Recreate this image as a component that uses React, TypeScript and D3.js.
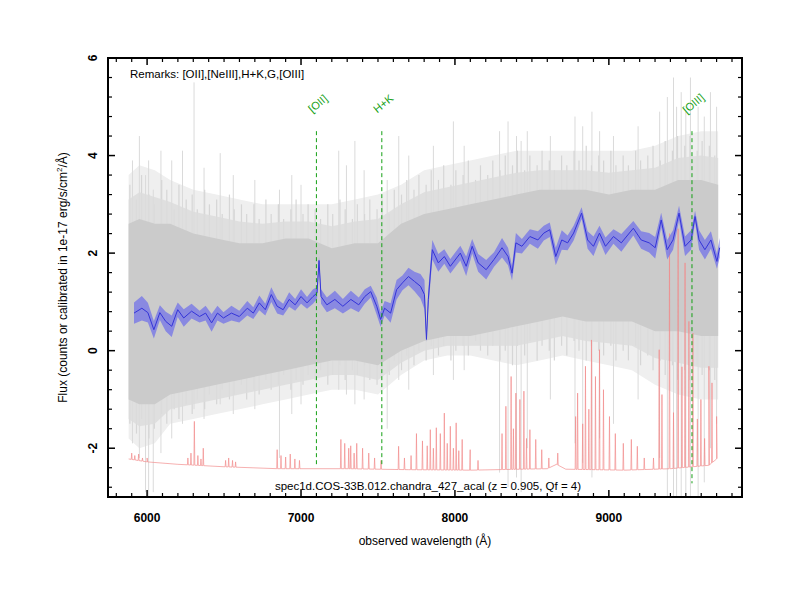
import React from 'react';
import * as d3 from 'd3';

// smoothed spectrum (blue)
const blueWl = [5915,5966,6005,6044,6083,6121,6160,6199,6238,6289,6341,6380,6419,6457,6496,6548,6599,6651,6690,6729,6768,6807,6845,6884,6923,6962,7000,7039,7078,7104,7117,7130,7168,7220,7272,7324,7375,7414,7453,7492,7517,7543,7582,7621,7659,7698,7737,7776,7802,7815,7827,7853,7892,7931,7970,8035,8073,8112,8151,8203,8254,8306,8345,8371,8396,8435,8487,8539,8577,8616,8655,8694,8732,8771,8823,8862,8900,8939,8978,9030,9081,9159,9210,9262,9301,9340,9379,9417,9456,9495,9534,9560,9586,9624,9663,9702,9720];
const blueFlux = [0.77,0.87,0.78,0.43,0.78,0.60,0.50,0.84,0.67,0.81,0.70,0.77,0.57,0.77,0.67,0.77,0.70,0.87,0.77,0.98,0.84,1.15,0.91,0.84,1.05,0.94,1.11,0.98,1.11,1.18,1.85,1.11,0.94,1.05,0.91,1.05,0.94,1.11,1.21,0.91,0.64,0.87,0.77,1.25,1.39,1.52,1.42,1.32,1.15,0.23,1.05,2.07,1.80,1.93,1.73,2.00,1.73,2.14,1.80,1.66,1.87,2.11,1.93,1.59,2.21,2.14,2.34,2.27,2.41,2.48,1.93,2.27,2.21,2.41,2.82,2.27,2.14,2.41,2.14,2.34,2.21,2.51,2.27,2.21,2.11,2.68,2.07,2.27,2.82,2.14,2.27,2.75,2.27,2.07,2.27,1.83,2.11];
const blueErr = [0.22,0.25,0.2,0.18,0.15,0.2,0.22,0.15,0.18,0.15,0.12,0.15,0.18,0.15,0.12,0.15,0.12,0.15,0.12,0.15,0.12,0.15,0.15,0.12,0.15,0.12,0.15,0.12,0.15,0.12,0.08,0.15,0.15,0.18,0.15,0.18,0.15,0.15,0.12,0.18,0.15,0.15,0.2,0.2,0.15,0.18,0.2,0.25,0.3,0.05,0.2,0.2,0.18,0.15,0.15,0.15,0.2,0.15,0.18,0.2,0.15,0.2,0.18,0.15,0.2,0.15,0.15,0.18,0.15,0.15,0.18,0.2,0.15,0.15,0.12,0.18,0.2,0.15,0.18,0.15,0.18,0.15,0.18,0.2,0.22,0.15,0.2,0.2,0.15,0.2,0.2,0.12,0.2,0.2,0.18,0.15,0.2];

// raw spectrum (grey) envelope
const grayWl = [5880,5950,6050,6150,6300,6450,6600,6750,6900,7050,7200,7350,7500,7650,7800,7950,8100,8250,8400,8550,8700,8850,9000,9150,9300,9450,9600,9710];
const grayDenseHi = [2.6,2.7,2.6,2.6,2.4,2.3,2.2,2.2,2.3,2.3,2.1,2.2,2.2,2.6,2.8,2.9,3.0,3.1,3.2,3.3,3.3,3.3,3.2,3.3,3.3,3.5,3.5,3.4];
const grayDenseLo = [-1.0,-1.1,-1.1,-0.9,-0.8,-0.7,-0.6,-0.5,-0.4,-0.3,-0.2,-0.2,-0.3,0.0,0.2,0.3,0.3,0.4,0.5,0.6,0.7,0.6,0.6,0.6,0.4,0.4,0.3,0.3];
const grayMidHi = [3.1,3.25,3.15,3.05,2.85,2.75,2.65,2.6,2.65,2.65,2.55,2.65,2.7,3.0,3.25,3.35,3.45,3.55,3.65,3.7,3.7,3.7,3.65,3.7,3.75,3.95,4.0,3.95];
const grayMidLo = [-1.4,-1.55,-1.5,-1.2,-1.1,-1.0,-0.9,-0.8,-0.7,-0.6,-0.5,-0.5,-0.6,-0.25,0.0,0.1,0.1,0.1,0.1,0.2,0.3,0.2,0.15,0.1,-0.15,-0.25,-0.35,-0.35];
const grayLightHi = [3.6,3.8,3.7,3.5,3.3,3.2,3.1,3.0,3.0,3.0,3.0,3.1,3.2,3.4,3.7,3.8,3.9,4.0,4.1,4.1,4.1,4.1,4.1,4.1,4.2,4.4,4.5,4.5];
const grayLightLo = [-1.8,-2.0,-1.9,-1.5,-1.4,-1.3,-1.2,-1.1,-1.0,-0.9,-0.8,-0.8,-0.9,-0.5,-0.2,-0.1,-0.1,-0.2,-0.3,-0.2,-0.1,-0.2,-0.3,-0.4,-0.7,-0.9,-1.0,-1.0];

// individual pixel columns of the raw spectrum
const strokeWl = [5888,5931,5964,6012,6047,6095,6128,6176,6207,6254,6293,6326,6374,6405,6452,6488,6535,6566,6613,6647,6694,6728,6772,6806,6853,6887,6934,6968,7013,7046,7092,7127,7174,7206,7253,7287,7334,7366,7413,7447,7494,7527,7573,7606,7653,7687,7734,7766,7813,7846,7893,7927,7974,8006,8053,8087,8134,8166,8213,8246,8293,8327,8374,8406,8453,8487,8534,8566,8613,8646,8693,8727,8774,8806,8853,8887,8934,8966,9013,9046,9093,9127,9174,9206,9253,9287,9334,9366,9413,9446,9493,9527,9574,9606,9653,9688];
const strokeHi = [3.4,3.1,3.6,3.2,3.0,3.5,3.3,2.9,3.4,3.1, 3.2,2.9,3.3,3.0,3.1,2.8,3.2,2.9,3.0,2.8, 3.0,2.7,3.1,2.8,3.0,2.7,2.9,3.1,2.8,3.0, 2.9,2.7,3.0,2.8,3.1,2.9,2.7,3.0,2.8,3.1, 2.9,3.1,2.8,3.3,3.2,3.5,3.3,3.6,3.4,3.7, 3.5,3.8,3.4,3.7,3.6,3.9,3.5,3.8,3.6,3.9, 3.7,4.0,3.8,4.1,3.7,4.0,3.8,4.1,3.9,3.7, 4.0,3.8,4.1,3.9,4.2,3.8,4.0,3.9,4.1,3.8, 4.0,3.8,4.1,3.9,4.0,4.2,3.9,4.3,4.1,4.4, 4.2,4.4,4.1,4.3,4.2,4.0];
const strokeLo = [-1.5,-1.7,-1.4,-1.8,-1.6,-1.3,-1.5,-1.2,-1.4,-1.1, -1.3,-1.0,-1.2,-0.9,-1.1,-0.8,-1.0,-0.9,-0.7,-1.0, -0.8,-0.9,-0.6,-0.8,-0.7,-0.5,-0.8,-0.6,-0.7,-0.5, -0.6,-0.4,-0.7,-0.5,-0.3,-0.6,-0.4,-0.5,-0.3,-0.6, -0.7,-0.4,-0.5,-0.2,-0.4,-0.1,-0.3,0.0,-0.2,0.1, -0.1,0.1,-0.2,0.0,0.1,-0.1,0.2,0.0,-0.1,0.1, -0.2,0.0,-0.3,0.1,-0.1,0.2,-0.2,0.1,0.0,-0.2, 0.1,-0.1,0.2,0.0,-0.2,0.1,0.0,-0.1,0.1,-0.2, 0.0,-0.2,0.1,-0.3,-0.1,-0.4,-0.2,-0.5,-0.3,-0.6, -0.4,-0.6,-0.3,-0.5,-0.4,-0.6];

// single outlying pixels of the raw spectrum
const spikeWl = [5905,5950,5990,6010,6040,6090,6160,6230,6305,6370,6475,6560,6700,6860,6940,7000,7245,7295,7350,7410,7560,7635,7700,7860,7990,8060,8290,8345,8400,8430,8470,8620,8780,8830,8890,8940,9030,9190,9330,9380,9420,9440,9470,9500,9530,9580,9620,9660,9700];
const spikeLo = [-1.9,-2.2,-2.9,-3.0,-2.9,-2.1,-1.8,-1.5,-1.2,-1.4,-1.1,-1.3,-1.2,-2.2,-1.3,-1.1,-0.8,-0.9,-1.1,-1.0,-1.6,-0.6,-0.8,-0.5,-0.6,-0.4,-2.5,-2.8,-2.6,-2.9,-2.0,-1.0,-1.9,-2.3,-2.6,-1.8,-1.5,-1.0,-2.2,-3.0,-3.0,-3.0,-3.0,-3.0,-3.0,-3.0,-2.7,-2.0,-1.5];
const spikeHi = [3.9,4.4,3.6,3.9,3.3,4.1,3.9,4.1,5.5,3.75,4.05,3.6,3.5,3.3,3.6,3.4,4.1,3.8,4.3,3.7,3.5,4.4,4.0,4.2,4.7,4.2,4.5,4.7,4.4,4.3,4.5,4.4,4.8,4.6,4.9,4.5,4.4,4.6,4.9,5.2,5.6,5.0,5.3,4.9,5.6,5.0,4.8,5.3,5.0];

// sky spectrum (red)
const skyBaseWl = [5880,6000,6200,6500,6850,7300,7700,8100,8600,8660,8720,9100,9400,9650,9700];
const skyBaseFlux = [-2.22,-2.28,-2.33,-2.38,-2.42,-2.42,-2.44,-2.45,-2.42,-2.33,-2.43,-2.45,-2.42,-2.35,-2.22];
const skyLineWl = [5900,5920,5945,5970,6000,6265,6285,6307,6330,6350,6365,6510,6530,6555,6575,6845,6870,6900,6930,6960,6990,7259,7284,7310,7323,7345,7362,7400,7440,7478,7520,7634,7672,7715,7750,7789,7820,7840,7860,7879,7905,7931,7950,7970,7990,8008,8025,8047,8099,8150,8306,8331,8365,8380,8396,8422,8448,8465,8487,8525,8564,8610,8668,8784,8797,8830,8848,8870,8887,8913,8939,8965,9004,9042,9094,9146,9185,9230,9290,9327,9345,9394,9420,9450,9475,9495,9520,9546,9575,9598,9622,9650,9670,9700];
const skyLinePeak = [-2.1,-2.15,-2.12,-2.2,-2.2,-2.2,-2.1,-1.45,-2.15,-2.22,-2.0,-2.25,-2.2,-2.25,-2.28,-2.03,-2.15,-2.18,-2.12,-2.22,-2.25,-1.82,-1.9,-2.0,-1.95,-2.1,-1.9,-2.0,-2.1,-2.2,-2.25,-1.96,-2.2,-2.15,-1.7,-1.85,-1.95,-1.62,-2.0,-1.58,-1.7,-1.28,-1.9,-1.55,-2.0,-1.48,-2.05,-1.82,-2.03,-2.25,-1.7,-1.14,-0.53,-1.6,-0.87,-1.0,-0.83,-1.8,-1.62,-1.82,-2.03,-2.2,-2.1,-1.35,-0.87,-1.5,-0.32,-1.2,0.22,-0.53,0.02,-0.8,-1.35,-1.7,-1.9,-1.82,-1.96,-2.2,-2.2,0.02,-0.9,2.4,-1.27,2.5,-0.33,1.8,0.6,0.36,-1.4,-1.0,-1.8,-0.32,-0.66,-1.35];

// identified features
const lineNames = ['[OII]', 'H+K', '[OIII]'];
const lineWl = [7100, 7525, 9540];
const lineBottom = [-2.38, -2.38, -2.72];

const xTicks = [6000, 7000, 8000, 9000];
const yTicks = [-2, 0, 2, 4, 6];

const remarks = 'Remarks: [OII],[NeIII],H+K,G,[OIII]';
const caption = 'spec1d.COS-33B.012.chandra_427_acal (z = 0.905, Qf = 4)';

export default function App() {
  const W = 800, H = 600;
  const m = { left: 108, right: 742, top: 58, bottom: 497 };
  const font = '"Liberation Sans", Arial, Helvetica, sans-serif';

  const x = d3.scaleLinear().domain([5746, 9865]).range([m.left, m.right]);
  const y = d3.scaleLinear().domain([-3, 6]).range([m.bottom, m.top]);

  const band = (lo: number[], hi: number[]) =>
    d3.area<number>().x((_, i) => x(grayWl[i])).y0((_, i) => y(lo[i])).y1((_, i) => y(hi[i]))(grayWl) || '';

  const blueIdx = d3.range(Math.min(blueWl.length, blueFlux.length));
  const blueArea = d3.area<number>()
    .x(i => x(blueWl[i]))
    .y0(i => y(blueFlux[i] - (blueErr[i] ?? 0.15)))
    .y1(i => y(blueFlux[i] + (blueErr[i] ?? 0.15)))(blueIdx) || '';
  const blueLine = d3.line<number>().x(i => x(blueWl[i])).y(i => y(blueFlux[i]))(blueIdx) || '';

  // sky: baseline plus narrow emission lines
  const base = d3.scaleLinear().domain(skyBaseWl).range(skyBaseFlux);
  const skyPts: [number, number][] = skyBaseWl.map((w, i) => [w, skyBaseFlux[i]]);
  skyLineWl.forEach((w, i) => {
    skyPts.push([w - 3, base(w - 3)], [w, skyLinePeak[i]], [w + 3, base(w + 3)]);
  });
  skyPts.sort((a, b) => a[0] - b[0]);
  const skyPath = d3.line<[number, number]>().x(d => x(d[0])).y(d => y(d[1]))(skyPts) || '';

  const xMinor = d3.range(5800, 9900, 100).filter(v => v % 1000 !== 0);
  const yMinor = d3.range(-2.8, 6, 0.4).map(v => Math.round(v * 10) / 10).filter(v => Math.abs(v % 2) > 0.01);

  return (
    <svg width={W} height={H} style={{ position: 'absolute', left: 0, top: 0, background: '#fff' }} fontFamily={font}>
      <defs>
        <clipPath id="plot">
          <rect x={m.left} y={m.top} width={m.right - m.left} height={m.bottom - m.top} />
        </clipPath>
      </defs>
      <g clipPath="url(#plot)">
        <path d={band(grayLightLo, grayLightHi)} fill="#efefef" />
        {spikeWl.map((w, i) => (
          <line key={'s' + i} x1={x(w)} x2={x(w)} y1={y(spikeLo[i])} y2={y(spikeHi[i])} stroke="#dadada" strokeWidth={1} />
        ))}
        {strokeWl.map((w, i) => (
          <line key={'k' + i} x1={x(w)} x2={x(w)} y1={y(strokeLo[i])} y2={y(strokeHi[i])} stroke="#d6d6d6" strokeWidth={1.2} />
        ))}
        <path d={band(grayMidLo, grayMidHi)} fill="#dcdcdc" fillOpacity={0.85} />
        <path d={band(grayDenseLo, grayDenseHi)} fill="#cbcbcb" />
        <path d={skyPath} fill="none" stroke="#f28a8a" strokeWidth={0.8} strokeOpacity={0.85} />
        <path d={blueArea} fill="#7878e6" fillOpacity={0.8} />
        <path d={blueLine} fill="none" stroke="#3434d8" strokeWidth={1} />
        {lineWl.map((w, i) => (
          <line key={'g' + i} x1={x(w)} x2={x(w)} y1={y(4.5)} y2={y(lineBottom[i])}
            stroke="#14a014" strokeWidth={1} strokeDasharray="4,3" />
        ))}
      </g>
      {lineWl.map((w, i) => (
        <text key={'gl' + i} x={0} y={0} transform={`translate(${x(w) + 2},${y(5.05)}) rotate(-40)`} textAnchor="middle"
          dominantBaseline="middle" fontSize={11} fill="#14a014">{lineNames[i]}</text>
      ))}

      {/* frame */}
      <rect x={m.left} y={m.top} width={m.right - m.left} height={m.bottom - m.top} fill="none" stroke="#000" strokeWidth={2} />

      {/* ticks */}
      {xTicks.map(v => (
        <g key={'xt' + v}>
          <line x1={x(v)} x2={x(v)} y1={m.bottom} y2={m.bottom - 7} stroke="#000" strokeWidth={1.5} />
          <line x1={x(v)} x2={x(v)} y1={m.top} y2={m.top + 7} stroke="#000" strokeWidth={1.5} />
          <text x={x(v)} y={522} textAnchor="middle" fontSize={12} fontWeight="bold">{v}</text>
        </g>
      ))}
      {xMinor.map(v => (
        <g key={'xm' + v}>
          <line x1={x(v)} x2={x(v)} y1={m.bottom} y2={m.bottom - 4} stroke="#000" strokeWidth={1.2} />
          <line x1={x(v)} x2={x(v)} y1={m.top} y2={m.top + 4} stroke="#000" strokeWidth={1.2} />
        </g>
      ))}
      {yTicks.map(v => (
        <g key={'yt' + v}>
          <line x1={m.left} x2={m.left + 7} y1={y(v)} y2={y(v)} stroke="#000" strokeWidth={1.5} />
          <line x1={m.right} x2={m.right - 7} y1={y(v)} y2={y(v)} stroke="#000" strokeWidth={1.5} />
          <text transform={`translate(97,${y(v)}) rotate(-90)`} textAnchor="middle" fontSize={12} fontWeight="bold">{v}</text>
        </g>
      ))}
      {yMinor.map(v => (
        <g key={'ym' + v}>
          <line x1={m.left} x2={m.left + 4} y1={y(v)} y2={y(v)} stroke="#000" strokeWidth={1.2} />
          <line x1={m.right} x2={m.right - 4} y1={y(v)} y2={y(v)} stroke="#000" strokeWidth={1.2} />
        </g>
      ))}

      <text x={130} y={78} fontSize={11.5}>{remarks}</text>
      <text x={428} y={490} textAnchor="middle" fontSize={11.5}>{caption}</text>

      <text x={425} y={545} textAnchor="middle" fontSize={12}>observed wavelength (Å)</text>
      <text transform={`translate(67,${(m.top + m.bottom) / 2}) rotate(-90)`} textAnchor="middle" fontSize={12}>
        Flux (counts or calibrated in 1e-17 erg/s/cm<tspan dy={-5} fontSize={8}>2</tspan><tspan dy={5}>/Å)</tspan>
      </text>
    </svg>
  );
}
